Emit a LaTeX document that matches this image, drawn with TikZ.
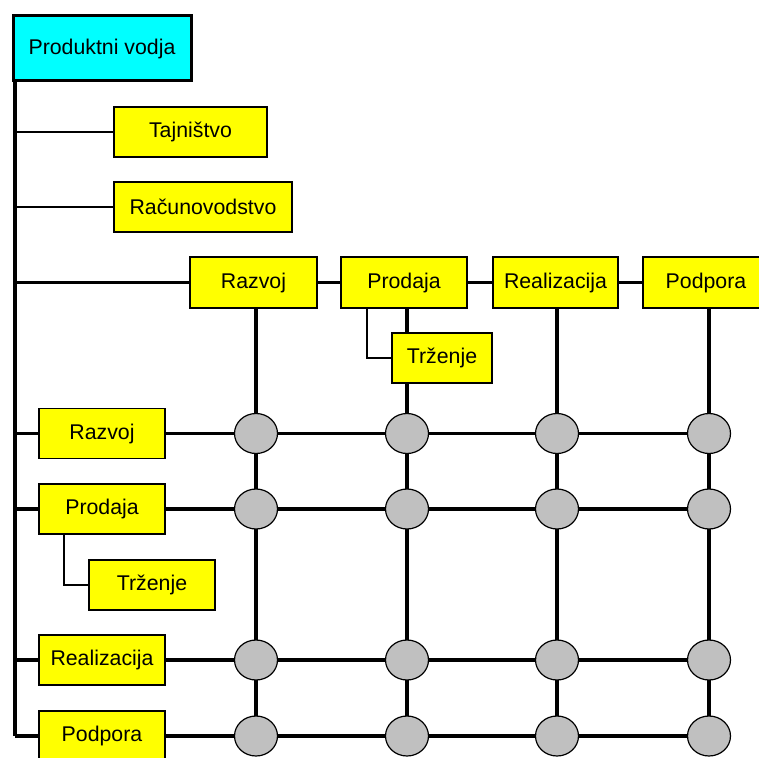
\documentclass[tikz,border=0pt]{standalone}
\usepackage{fontspec}
\setmainfont{Liberation Sans}
\usetikzlibrary{shapes.geometric}
\definecolor{boxyellow}{HTML}{FFFF00}
\definecolor{bosscyan}{HTML}{00FFFF}
\definecolor{nodegray}{HTML}{C0C0C0}
\begin{document}
\begin{tikzpicture}[x=1pt,y=-1pt,
  unitbox/.style={draw,line width=1.6pt,fill=boxyellow,inner sep=0pt,minimum height=50pt,minimum width=126pt,font=\fontsize{21.3}{25}\selectfont},
  bossbox/.style={draw,line width=3pt,fill=bosscyan,inner sep=0pt,minimum height=65pt,minimum width=178pt,font=\fontsize{21.3}{25}\selectfont},
  cross/.style={ellipse,draw,line width=1.2pt,fill=nodegray,inner sep=0pt,minimum width=43pt,minimum height=40pt},
  heavy/.style={line width=3.6pt},
  light/.style={line width=1.6pt}]
\useasboundingbox (0,0) rectangle (759,757);
\clip (0,0) rectangle (759,757);

% boxes
\node[bossbox] (pv) at (102,48.5) {Produktni vodja};
\node[unitbox,minimum width=153pt] (taj) at (190.5,132) {Tajništvo};
\node[unitbox,minimum width=178pt] (rac) at (203,207) {Računovodstvo};

\node[unitbox,minimum height=51pt,minimum width=127pt] (traz) at (253.5,282.5) {Razvoj};
\node[unitbox,minimum height=51pt] (tpro) at (404,282.5) {Prodaja};
\node[unitbox,minimum height=51pt,minimum width=125pt] (trea) at (555.5,282.5) {Realizacija};
\node[unitbox,minimum height=51pt] (tpod) at (706,282.5) {Podpora};
\node[unitbox,minimum width=100pt] (ttrz) at (442,358) {Trženje};

\node[unitbox] (lraz) at (102,433.5) {Razvoj};
\node[unitbox] (lpro) at (102,509) {Prodaja};
\node[unitbox] (ltrz) at (152,585) {Trženje};
\node[unitbox] (lrea) at (102,660) {Realizacija};
\node[unitbox] (lpod) at (102,736) {Podpora};

% grid coordinates
\foreach \c/\x in {1/256,2/407,3/557,4/709}
  \foreach \r/\y in {1/433.5,2/509,3/660,4/736}
    \coordinate (g\c\r) at (\x,\y);

% trunk
\coordinate (trtop) at (15,81);
\coordinate (trbot) at (15,736);
\draw[heavy] (trtop) -- (trbot);

% staff lines
\draw[light] (taj.west -| trtop) -- (taj.west);
\draw[light] (rac.west -| trtop) -- (rac.west);

% top row
\draw[heavy] (traz.west -| trtop) -- (traz.west);
\draw[heavy] (traz.east) -- (tpro.west);
\draw[heavy] (tpro.east) -- (trea.west);
\draw[heavy] (trea.east) -- (tpod.west);

% left rows
\draw[heavy] (lraz.west -| trtop) -- (lraz.west);
\draw[heavy] (lpro.west -| trtop) -- (lpro.west);
\draw[heavy] (lrea.west -| trtop) -- (lrea.west);
\draw[heavy] (lpod.west -| trtop) -- (lpod.west);
\draw[heavy] (lraz.east) -- (g11) -- (g41);
\draw[heavy] (lpro.east) -- (g12) -- (g42);
\draw[heavy] (lrea.east) -- (g13) -- (g43);
\draw[heavy] (lpod.east) -- (g14) -- (g44);

% columns
\draw[heavy] (traz.south -| g11) -- (g14);
\draw[heavy] (tpro.south -| g21) -- (ttrz.north -| g21);
\draw[heavy] (ttrz.south -| g21) -- (g24);
\draw[heavy] (trea.south -| g31) -- (g34);
\draw[heavy] (tpod.south -| g41) -- (g44);

% sub-unit links
\coordinate (tk) at (367,308);
\draw[light] (tpro.south -| tk) |- (ttrz.west);
\coordinate (lk) at (64,534);
\draw[light] (lpro.south -| lk) |- (ltrz.west);

% crossing nodes
\foreach \c in {1,2,3,4}
  \foreach \r in {1,2,3,4}
    \node[cross] (n\c\r) at (g\c\r) {};
\end{tikzpicture}
\end{document}
